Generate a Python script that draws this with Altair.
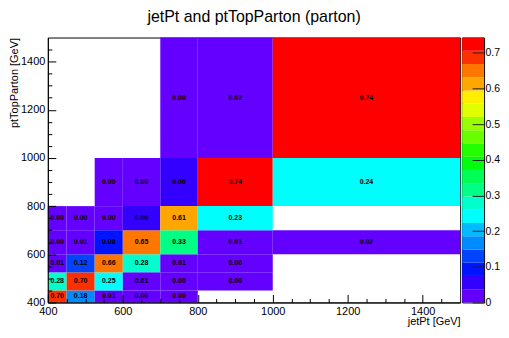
import colorsys
import altair as alt
import pandas as pd

# ---------------- data ----------------
# variable bin edges (GeV), identical on both axes
x_edges = [400, 450, 525, 600, 700, 800, 1000, 1500]
y_edges = [400, 450, 525, 600, 700, 800, 1000, 1500]

# bin contents, one list per ptTopParton bin (bottom to top); None = empty bin
row_400_450 = [0.70, 0.18, 0.01, 0.00, 0.00, None, None]
row_450_525 = [0.28, 0.70, 0.25, 0.01, 0.00, 0.00, None]
row_525_600 = [0.01, 0.12, 0.66, 0.28, 0.01, 0.00, None]
row_600_700 = [0.00, 0.01, 0.08, 0.65, 0.33, 0.01, 0.02]
row_700_800 = [0.00, 0.00, 0.00, 0.06, 0.61, 0.23, None]
row_800_1000 = [None, None, 0.00, 0.00, 0.06, 0.74, 0.24]
row_1000_1500 = [None, None, None, None, 0.00, 0.02, 0.74]

z_max = 0.743
n_contours = 20
major_tick_values = [400, 600, 800, 1000, 1200, 1400]
minor_tick_values = [v for v in range(450, 1500, 50) if v % 200 != 0]
color_tick_values = [0, 0.1, 0.2, 0.3, 0.4, 0.5, 0.6, 0.7]

FONT = "Liberation Sans"
PLOT_W, PLOT_H, CBAR_W = 414, 266, 22

# ---------------- palette (ROOT "pretty" violet->red, 20 contours) ----------------
def band_color(k):
    idx = int((k + 0.99) * 50 / n_contours)
    hue = 280 - (idx + 1) * 280 / 50
    r, g, b = colorsys.hls_to_rgb(hue / 360.0, 0.5, 1.0)
    return "#%02x%02x%02x" % (round(r * 255), round(g * 255), round(b * 255))

colors = [band_color(k) for k in range(n_contours)]
thresholds = [z_max * k / n_contours for k in range(1, n_contours)]
color_scale = alt.Scale(type="threshold", domain=thresholds, range=colors)

# ---------------- tables ----------------
rows = [row_400_450, row_450_525, row_525_600, row_600_700,
        row_700_800, row_800_1000, row_1000_1500]
recs = []
for j, row in enumerate(rows):
    for i, v in enumerate(row):
        if v is None:
            continue
        recs.append(dict(x0=x_edges[i], x1=x_edges[i + 1],
                         y0=y_edges[j], y1=y_edges[j + 1], v=v))
cells = pd.DataFrame(recs)
cells["xc"] = (cells.x0 + cells.x1) / 2
cells["yc"] = (cells.y0 + cells.y1) / 2

cbar_df = pd.DataFrame({
    "lo": [z_max * k / n_contours for k in range(n_contours)],
    "hi": [z_max * (k + 1) / n_contours for k in range(n_contours)],
})
cbar_df["mid"] = (cbar_df.lo + cbar_df.hi) / 2

# ---------------- axes ----------------
xscale = alt.Scale(domain=[400, 1500], nice=False, zero=False)
yscale = alt.Scale(domain=[400, 1500], nice=False, zero=False)

major_axis = dict(
    values=major_tick_values, format="d",
    tickSize={"expr": "-8"}, labelPadding=11, tickColor="black", tickWidth=1,
    domain=True, domainColor="black", grid=False, labelOverlap=False,
    labelFlush=False, labelFont=FONT, labelFontSize=11, labelColor="black",
    titleFont=FONT, titleFontSize=11, titleFontWeight="normal", titleColor="black",
    zindex=1,
)
minor_axis = dict(
    values=minor_tick_values, tickSize={"expr": "-4"}, tickColor="black",
    tickWidth=1, labels=False, domain=False, grid=False, title=None, zindex=1,
)

x_major = alt.Axis(orient="bottom", title="jetPt [GeV]", titleX=PLOT_W, titleY=19,
                   titleAlign="right", titleBaseline="middle", **major_axis)
y_major = alt.Axis(orient="left", title="ptTopParton [GeV]", titleX=-33.5, titleY=0,
                   titleAlign="right", titleAngle=270, titleBaseline="middle",
                   **major_axis)
x_minor = alt.Axis(orient="bottom", **minor_axis)
y_minor = alt.Axis(orient="left", **minor_axis)

base = alt.Chart(cells)
heat = base.mark_rect().encode(
    x=alt.X("x0:Q", scale=xscale, axis=x_major),
    x2="x1:Q",
    y=alt.Y("y0:Q", scale=yscale, axis=y_major),
    y2="y1:Q",
    color=alt.Color("v:Q", scale=color_scale, legend=None),
)
labels = base.mark_text(font=FONT, fontSize=7, fontWeight="bold", color="black").encode(
    x=alt.X("xc:Q", scale=xscale, axis=x_minor),
    y=alt.Y("yc:Q", scale=yscale, axis=y_minor),
    text=alt.Text("v:Q", format=".2f"),
)
main = alt.layer(heat, labels).resolve_axis(x="independent", y="independent").properties(
    width=PLOT_W, height=PLOT_H)

cbar = alt.Chart(cbar_df).mark_rect().encode(
    y=alt.Y("lo:Q", scale=alt.Scale(domain=[0, z_max], nice=False, zero=True),
            axis=alt.Axis(orient="right", values=color_tick_values, format=".1~f",
                          tickSize={"expr": "-12"}, labelPadding=13, tickColor="#222",
                          domain=False, grid=False, labelFont=FONT, labelFontSize=10.5,
                          labelColor="black", title=None, zindex=1, labelFlush=False,
                          labelOverlap=False)),
    y2="hi:Q",
    color=alt.Color("mid:Q", scale=color_scale, legend=None),
).properties(width=CBAR_W, height=PLOT_H)

chart = alt.hconcat(main, cbar, spacing=2, bounds="flush").resolve_scale(
    color="independent"
).properties(
    title=alt.TitleParams("jetPt and ptTopParton (parton)", font=FONT, fontSize=16,
                          fontWeight="normal", color="black", anchor="middle",
                          baseline="alphabetic", offset=-1),
    padding={"left": 0, "top": 0, "right": 0, "bottom": 0},
).configure_view(stroke="black", strokeWidth=1)

chart.save("out.html", embed_options={"renderer": "svg", "actions": False})
